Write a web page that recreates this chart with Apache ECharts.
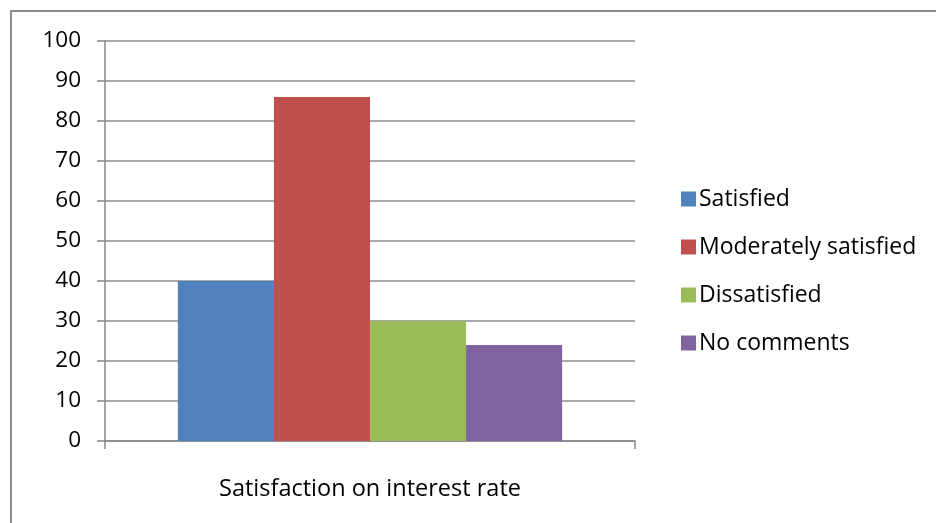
<!DOCTYPE html>
<html><head><meta charset="utf-8">
<script src="https://cdn.jsdelivr.net/npm/echarts@6/dist/echarts.min.js"></script>
<style>html,body{margin:0;padding:0;background:#fff;overflow:hidden}#c{width:936px;height:523px}</style>
</head><body><div id="c"></div>
<script>
const categories = ['Satisfaction on interest rate'];
const seriesNames = ['Satisfied', 'Moderately satisfied', 'Dissatisfied', 'No comments'];
const satisfied = [40];
const moderatelySatisfied = [86];
const dissatisfied = [30];
const noComments = [24];
const colors = ['#4F81BD', '#C0504D', '#9BBB59', '#8064A2'];
const values = [satisfied, moderatelySatisfied, dissatisfied, noComments];

const chart = echarts.init(document.getElementById('c'));
const font = '"Open Sans", "Liberation Sans", sans-serif';
chart.setOption({
  animation: false,
  textStyle: { fontFamily: font },
  graphic: [{
    type: 'rect', shape: { x: 11, y: 11, width: 940, height: 530 },
    style: { fill: 'none', stroke: '#8c8c8c', lineWidth: 2 }, silent: true, z: -1
  }],
  grid: { left: 105, right: 301, top: 41, bottom: 82, containLabel: false },
  legend: {
    orient: 'vertical', left: 676, top: 182, itemGap: 24, itemWidth: 15, itemHeight: 15,
    icon: 'rect',
    textStyle: { fontSize: 23, lineHeight: 24, color: '#000', fontFamily: font, padding: [0, 0, 0, -2] },
    data: seriesNames
  },
  xAxis: {
    type: 'category', data: categories,
    axisLine: { lineStyle: { color: '#888', width: 1.5 } },
    axisTick: { show: true, length: 8, alignWithLabel: false, lineStyle: { color: '#888', width: 1.5 } },
    axisLabel: { fontSize: 23.5, color: '#000', margin: 36, fontFamily: font }
  },
  yAxis: {
    type: 'value', min: 0, max: 100, interval: 10,
    axisLine: { show: true, lineStyle: { color: '#888', width: 1.5 } },
    axisTick: { show: true, length: 8, lineStyle: { color: '#888', width: 1.5 } },
    splitLine: { lineStyle: { color: '#8c8c8c', width: 1.5 } },
    axisLabel: { fontSize: 22.5, color: '#000', margin: 24, fontFamily: font }
  },
  series: seriesNames.map((n, i) => ({
    name: n, type: 'bar', data: values[i], barGap: '0%', barCategoryGap: '27.5%',
    itemStyle: { color: colors[i] }
  }))
});
</script></body></html>
